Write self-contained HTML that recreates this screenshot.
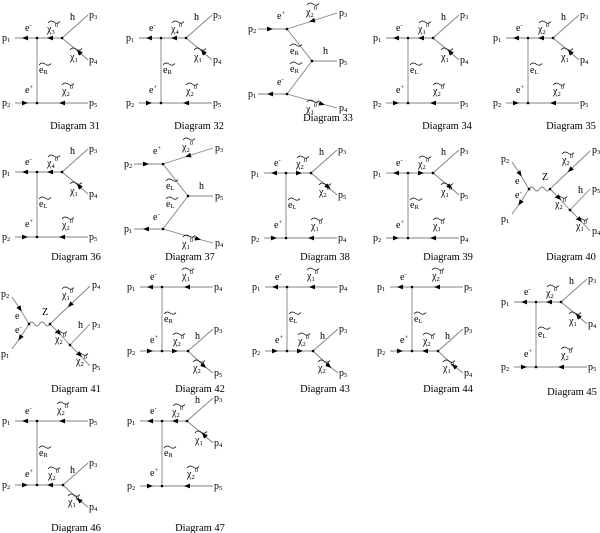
<!DOCTYPE html>
<html><head><meta charset="utf-8"><style>
html,body{margin:0;padding:0;background:#fff;width:600px;height:533px;overflow:hidden}
text{font-family:"Liberation Serif",serif;font-size:10px;fill:#000}
.s{font-size:6.5px}
.c{font-size:10.5px;text-anchor:middle}
.ln path{fill:none;stroke:#808080;stroke-width:0.9}
.ln path.m{marker-mid:url(#a)}
circle{fill:#000}
</style></head><body>
<svg width="600" height="533" viewBox="0 0 600 533" xmlns="http://www.w3.org/2000/svg">
<defs>
<marker id="a" viewBox="0 0 6 6" refX="3" refY="3" markerWidth="6" markerHeight="6" markerUnits="userSpaceOnUse" orient="auto"><path d="M0,0.6 L6,3 L0,5.4z" fill="#000"/></marker>
<path id="tl" d="M2,3 C4,0.5 6,0.5 8,2 S12,4 14,1.5" fill="none" stroke="#000" stroke-width="0.7"/>
</defs>

<!-- Diagram 31 -->
<g transform="translate(0,0)">
<g class="ln"><path class="m" d="M37,38 L25,38 L15,38"/><path class="m" d="M62,38 L50,38 L37,38"/><path d="M37,38 V103"/><path class="m" d="M15,103 L25,103 L37,103"/><path class="m" d="M88,103 L62,103 L37,103"/><path d="M62,38 L88,15"/><path class="m" d="M88,60 L79,52 L62,38"/></g>
<circle cx="37" cy="38" r="1.3"/><circle cx="62" cy="38" r="1.3"/><circle cx="37" cy="103" r="1.3"/>
<text x="2" y="41">p<tspan class="s" dy="1">1</tspan></text><text x="25" y="31">e<tspan class="s" dy="-4">-</tspan></text>
<use href="#tl" x="46" y="20"/><text x="47" y="32">χ<tspan class="s" dy="2">3</tspan><tspan class="s" dy="-7">0</tspan></text>
<text x="70" y="20">h</text><use href="#tl" x="68" y="47"/><text x="70" y="60">χ<tspan class="s" dy="2">1</tspan><tspan class="s" dy="-7">0</tspan></text>
<use href="#tl" x="37" y="62"/><text x="39" y="73">e<tspan class="s" dy="1">R</tspan></text>
<text x="25" y="93">e<tspan class="s" dy="-4">+</tspan></text><use href="#tl" x="60" y="82"/><text x="62" y="94">χ<tspan class="s" dy="2">2</tspan><tspan class="s" dy="-7">0</tspan></text>
<text x="2" y="106">p<tspan class="s" dy="1">2</tspan></text><text x="89" y="18">p<tspan class="s" dy="1">3</tspan></text><text x="89" y="63">p<tspan class="s" dy="1">4</tspan></text><text x="89" y="106">p<tspan class="s" dy="1">5</tspan></text>
</g>

<!-- Diagram 32 -->
<g transform="translate(124,0)">
<g class="ln"><path class="m" d="M37,38 L25,38 L15,38"/><path class="m" d="M62,38 L50,38 L37,38"/><path d="M37,38 V103"/><path class="m" d="M15,103 L25,103 L37,103"/><path class="m" d="M88,103 L62,103 L37,103"/><path d="M62,38 L88,15"/><path class="m" d="M88,60 L79,52 L62,38"/></g>
<circle cx="37" cy="38" r="1.3"/><circle cx="62" cy="38" r="1.3"/><circle cx="37" cy="103" r="1.3"/>
<text x="2" y="41">p<tspan class="s" dy="1">1</tspan></text><text x="25" y="31">e<tspan class="s" dy="-4">-</tspan></text>
<use href="#tl" x="46" y="20"/><text x="47" y="32">χ<tspan class="s" dy="2">4</tspan><tspan class="s" dy="-7">0</tspan></text>
<text x="70" y="20">h</text><use href="#tl" x="68" y="47"/><text x="70" y="60">χ<tspan class="s" dy="2">1</tspan><tspan class="s" dy="-7">0</tspan></text>
<use href="#tl" x="37" y="62"/><text x="39" y="73">e<tspan class="s" dy="1">R</tspan></text>
<text x="25" y="93">e<tspan class="s" dy="-4">+</tspan></text><use href="#tl" x="60" y="82"/><text x="62" y="94">χ<tspan class="s" dy="2">2</tspan><tspan class="s" dy="-7">0</tspan></text>
<text x="2" y="106">p<tspan class="s" dy="1">2</tspan></text><text x="89" y="18">p<tspan class="s" dy="1">3</tspan></text><text x="89" y="63">p<tspan class="s" dy="1">4</tspan></text><text x="89" y="106">p<tspan class="s" dy="1">5</tspan></text>
</g>

<!-- Diagram 33 -->
<g transform="translate(0,0)">
<g class="ln"><path class="m" d="M258,29 L270,29 L287,29"/><path class="m" d="M337,13 L312,21 L287,29"/><path d="M287,29 L312,61 L337,61"/><path d="M312,61 L287,94"/><path class="m" d="M287,94 L270,94 L258,94"/><path class="m" d="M287,94 L322,104 L337,108"/></g>
<circle cx="287" cy="29" r="1.3"/><circle cx="312" cy="61" r="1.3"/><circle cx="287" cy="94" r="1.3"/>
<text x="248" y="32">p<tspan class="s" dy="1">2</tspan></text><text x="248" y="97">p<tspan class="s" dy="1">1</tspan></text>
<text x="277" y="19">e<tspan class="s" dy="-4">+</tspan></text><use href="#tl" x="305" y="2"/><text x="306" y="15">χ<tspan class="s" dy="2">2</tspan><tspan class="s" dy="-7">0</tspan></text>
<use href="#tl" x="288" y="43"/><text x="290" y="54">e<tspan class="s" dy="1">R</tspan></text><text x="323" y="54">h</text>
<use href="#tl" x="288" y="61"/><text x="290" y="72">e<tspan class="s" dy="1">R</tspan></text>
<text x="277" y="85">e<tspan class="s" dy="-4">-</tspan></text><use href="#tl" x="305" y="99"/><text x="306" y="112">χ<tspan class="s" dy="2">1</tspan><tspan class="s" dy="-7">0</tspan></text>
<text x="339" y="16">p<tspan class="s" dy="1">3</tspan></text><text x="339" y="64">p<tspan class="s" dy="1">5</tspan></text><text x="339" y="111">p<tspan class="s" dy="1">4</tspan></text>
</g>

<!-- Diagram 34 -->
<g transform="translate(371,0)">
<g class="ln"><path class="m" d="M37,38 L25,38 L15,38"/><path class="m" d="M62,38 L50,38 L37,38"/><path d="M37,38 V103"/><path class="m" d="M15,103 L25,103 L37,103"/><path class="m" d="M88,103 L62,103 L37,103"/><path d="M62,38 L88,15"/><path class="m" d="M88,60 L79,52 L62,38"/></g>
<circle cx="37" cy="38" r="1.3"/><circle cx="62" cy="38" r="1.3"/><circle cx="37" cy="103" r="1.3"/>
<text x="2" y="41">p<tspan class="s" dy="1">1</tspan></text><text x="25" y="31">e<tspan class="s" dy="-4">-</tspan></text>
<use href="#tl" x="46" y="20"/><text x="47" y="32">χ<tspan class="s" dy="2">1</tspan><tspan class="s" dy="-7">0</tspan></text>
<text x="70" y="20">h</text><use href="#tl" x="68" y="47"/><text x="70" y="60">χ<tspan class="s" dy="2">1</tspan><tspan class="s" dy="-7">0</tspan></text>
<use href="#tl" x="37" y="62"/><text x="39" y="73">e<tspan class="s" dy="1">L</tspan></text>
<text x="25" y="93">e<tspan class="s" dy="-4">+</tspan></text><use href="#tl" x="60" y="82"/><text x="62" y="94">χ<tspan class="s" dy="2">2</tspan><tspan class="s" dy="-7">0</tspan></text>
<text x="2" y="106">p<tspan class="s" dy="1">2</tspan></text><text x="89" y="18">p<tspan class="s" dy="1">3</tspan></text><text x="89" y="63">p<tspan class="s" dy="1">4</tspan></text><text x="89" y="106">p<tspan class="s" dy="1">5</tspan></text>
</g>

<!-- Diagram 35 -->
<g transform="translate(491,0)">
<g class="ln"><path class="m" d="M37,38 L25,38 L15,38"/><path class="m" d="M62,38 L50,38 L37,38"/><path d="M37,38 V103"/><path class="m" d="M15,103 L25,103 L37,103"/><path class="m" d="M88,103 L62,103 L37,103"/><path d="M62,38 L88,15"/><path class="m" d="M88,60 L79,52 L62,38"/></g>
<circle cx="37" cy="38" r="1.3"/><circle cx="62" cy="38" r="1.3"/><circle cx="37" cy="103" r="1.3"/>
<text x="2" y="41">p<tspan class="s" dy="1">1</tspan></text><text x="25" y="31">e<tspan class="s" dy="-4">-</tspan></text>
<use href="#tl" x="46" y="20"/><text x="47" y="32">χ<tspan class="s" dy="2">2</tspan><tspan class="s" dy="-7">0</tspan></text>
<text x="70" y="20">h</text><use href="#tl" x="68" y="47"/><text x="70" y="60">χ<tspan class="s" dy="2">1</tspan><tspan class="s" dy="-7">0</tspan></text>
<use href="#tl" x="37" y="62"/><text x="39" y="73">e<tspan class="s" dy="1">L</tspan></text>
<text x="25" y="93">e<tspan class="s" dy="-4">+</tspan></text><use href="#tl" x="60" y="82"/><text x="62" y="94">χ<tspan class="s" dy="2">2</tspan><tspan class="s" dy="-7">0</tspan></text>
<text x="2" y="106">p<tspan class="s" dy="1">2</tspan></text><text x="89" y="18">p<tspan class="s" dy="1">3</tspan></text><text x="89" y="63">p<tspan class="s" dy="1">4</tspan></text><text x="89" y="106">p<tspan class="s" dy="1">5</tspan></text>
</g>

<text class="c" x="75" y="129">Diagram 31</text><text class="c" x="199" y="129">Diagram 32</text><text class="c" x="328" y="121">Diagram 33</text><text class="c" x="447" y="129">Diagram 34</text><text class="c" x="571" y="129">Diagram 35</text>

<!-- Diagram 36 -->
<g transform="translate(0,134)">
<g class="ln"><path class="m" d="M37,38 L25,38 L15,38"/><path class="m" d="M62,38 L50,38 L37,38"/><path d="M37,38 V103"/><path class="m" d="M15,103 L25,103 L37,103"/><path class="m" d="M88,103 L62,103 L37,103"/><path d="M62,38 L88,15"/><path class="m" d="M88,60 L79,52 L62,38"/></g>
<circle cx="37" cy="38" r="1.3"/><circle cx="62" cy="38" r="1.3"/><circle cx="37" cy="103" r="1.3"/>
<text x="2" y="41">p<tspan class="s" dy="1">1</tspan></text><text x="25" y="31">e<tspan class="s" dy="-4">-</tspan></text>
<use href="#tl" x="46" y="20"/><text x="47" y="32">χ<tspan class="s" dy="2">4</tspan><tspan class="s" dy="-7">0</tspan></text>
<text x="70" y="20">h</text><use href="#tl" x="68" y="47"/><text x="70" y="60">χ<tspan class="s" dy="2">1</tspan><tspan class="s" dy="-7">0</tspan></text>
<use href="#tl" x="37" y="62"/><text x="39" y="73">e<tspan class="s" dy="1">L</tspan></text>
<text x="25" y="93">e<tspan class="s" dy="-4">+</tspan></text><use href="#tl" x="60" y="82"/><text x="62" y="94">χ<tspan class="s" dy="2">2</tspan><tspan class="s" dy="-7">0</tspan></text>
<text x="2" y="106">p<tspan class="s" dy="1">2</tspan></text><text x="89" y="18">p<tspan class="s" dy="1">3</tspan></text><text x="89" y="63">p<tspan class="s" dy="1">4</tspan></text><text x="89" y="106">p<tspan class="s" dy="1">5</tspan></text>
</g>

<!-- Diagram 37 -->
<g transform="translate(-124,135)">
<g class="ln"><path class="m" d="M258,29 L270,29 L287,29"/><path class="m" d="M337,13 L312,21 L287,29"/><path d="M287,29 L312,61 L337,61"/><path d="M312,61 L287,94"/><path class="m" d="M287,94 L270,94 L258,94"/><path class="m" d="M287,94 L322,104 L337,108"/></g>
<circle cx="287" cy="29" r="1.3"/><circle cx="312" cy="61" r="1.3"/><circle cx="287" cy="94" r="1.3"/>
<text x="248" y="32">p<tspan class="s" dy="1">2</tspan></text><text x="248" y="97">p<tspan class="s" dy="1">1</tspan></text>
<text x="277" y="19">e<tspan class="s" dy="-4">+</tspan></text><use href="#tl" x="305" y="2"/><text x="306" y="15">χ<tspan class="s" dy="2">2</tspan><tspan class="s" dy="-7">0</tspan></text>
<use href="#tl" x="288" y="43"/><text x="290" y="54">e<tspan class="s" dy="1">L</tspan></text><text x="323" y="54">h</text>
<use href="#tl" x="288" y="61"/><text x="290" y="72">e<tspan class="s" dy="1">L</tspan></text>
<text x="277" y="85">e<tspan class="s" dy="-4">-</tspan></text><use href="#tl" x="305" y="99"/><text x="306" y="112">χ<tspan class="s" dy="2">1</tspan><tspan class="s" dy="-7">0</tspan></text>
<text x="339" y="16">p<tspan class="s" dy="1">3</tspan></text><text x="339" y="64">p<tspan class="s" dy="1">5</tspan></text><text x="339" y="111">p<tspan class="s" dy="1">4</tspan></text>
</g>

<!-- Diagram 38 -->
<g transform="translate(249,135)">
<g class="ln"><path class="m" d="M37,38 L25,38 L15,38"/><path class="m" d="M37,38 L50,38 L62,38"/><path d="M37,38 V103"/><path class="m" d="M15,103 L25,103 L37,103"/><path class="m" d="M88,103 L62,103 L37,103"/><path d="M62,38 L88,15"/><path class="m" d="M62,38 L79,52 L88,60"/></g>
<circle cx="37" cy="38" r="1.3"/><circle cx="62" cy="38" r="1.3"/><circle cx="37" cy="103" r="1.3"/>
<text x="2" y="41">p<tspan class="s" dy="1">1</tspan></text><text x="25" y="31">e<tspan class="s" dy="-4">-</tspan></text>
<use href="#tl" x="46" y="20"/><text x="47" y="32">χ<tspan class="s" dy="2">2</tspan><tspan class="s" dy="-7">0</tspan></text>
<text x="70" y="20">h</text><use href="#tl" x="68" y="47"/><text x="70" y="60">χ<tspan class="s" dy="2">2</tspan><tspan class="s" dy="-7">0</tspan></text>
<use href="#tl" x="37" y="62"/><text x="39" y="73">e<tspan class="s" dy="1">L</tspan></text>
<text x="25" y="93">e<tspan class="s" dy="-4">+</tspan></text><use href="#tl" x="60" y="82"/><text x="62" y="94">χ<tspan class="s" dy="2">1</tspan><tspan class="s" dy="-7">0</tspan></text>
<text x="2" y="106">p<tspan class="s" dy="1">2</tspan></text><text x="89" y="18">p<tspan class="s" dy="1">3</tspan></text><text x="89" y="63">p<tspan class="s" dy="1">5</tspan></text><text x="89" y="106">p<tspan class="s" dy="1">4</tspan></text>
</g>

<!-- Diagram 39 -->
<g transform="translate(371,135)">
<g class="ln"><path class="m" d="M37,38 L25,38 L15,38"/><path class="m" d="M37,38 L50,38 L62,38"/><path d="M37,38 V103"/><path class="m" d="M15,103 L25,103 L37,103"/><path class="m" d="M88,103 L62,103 L37,103"/><path d="M62,38 L88,15"/><path class="m" d="M62,38 L79,52 L88,60"/></g>
<circle cx="37" cy="38" r="1.3"/><circle cx="62" cy="38" r="1.3"/><circle cx="37" cy="103" r="1.3"/>
<text x="2" y="41">p<tspan class="s" dy="1">1</tspan></text><text x="25" y="31">e<tspan class="s" dy="-4">-</tspan></text>
<use href="#tl" x="46" y="20"/><text x="47" y="32">χ<tspan class="s" dy="2">2</tspan><tspan class="s" dy="-7">0</tspan></text>
<text x="70" y="20">h</text><use href="#tl" x="68" y="47"/><text x="70" y="60">χ<tspan class="s" dy="2">1</tspan><tspan class="s" dy="-7">0</tspan></text>
<use href="#tl" x="37" y="62"/><text x="39" y="73">e<tspan class="s" dy="1">R</tspan></text>
<text x="25" y="93">e<tspan class="s" dy="-4">+</tspan></text><use href="#tl" x="60" y="82"/><text x="62" y="94">χ<tspan class="s" dy="2">1</tspan><tspan class="s" dy="-7">0</tspan></text>
<text x="2" y="106">p<tspan class="s" dy="1">2</tspan></text><text x="89" y="18">p<tspan class="s" dy="1">3</tspan></text><text x="89" y="63">p<tspan class="s" dy="1">5</tspan></text><text x="89" y="106">p<tspan class="s" dy="1">4</tspan></text>
</g>

<!-- Diagram 40 (X type) -->
<g transform="translate(500,-135)">
<g class="ln"><path class="m" d="M12,297 L20,309 L29,324"/><path class="m" d="M29,324 L20,338 L12,349"/><path d="M29,324 q2.6,-4 5.25,0 t5.25,0 t5.25,0 t5.25,0"/><path class="m" d="M90,286 L70,305 L50,324"/><path class="m" d="M50,324 L59,333 L70,345"/><path d="M70,345 L90,324"/><path class="m" d="M70,345 L80,355 L90,366"/></g>
<circle cx="29" cy="324" r="1.3"/><circle cx="50" cy="324" r="1.3"/><circle cx="70" cy="345" r="1.3"/>
<text x="1" y="297">p<tspan class="s" dy="1">2</tspan></text><text x="1" y="357">p<tspan class="s" dy="1">1</tspan></text>
<text x="15" y="319">e</text><text x="15" y="333">e<tspan class="s" dy="-4">-</tspan></text><text x="42" y="315">Z</text>
<use href="#tl" x="60" y="286"/><text x="62" y="298">χ<tspan class="s" dy="2">2</tspan><tspan class="s" dy="-7">0</tspan></text>
<text x="78" y="328">h</text><use href="#tl" x="53" y="330"/><text x="55" y="342">χ<tspan class="s" dy="2">2</tspan><tspan class="s" dy="-7">0</tspan></text>
<use href="#tl" x="74" y="352"/><text x="76" y="364">χ<tspan class="s" dy="2">1</tspan><tspan class="s" dy="-7">0</tspan></text>
<text x="92" y="288">p<tspan class="s" dy="1">3</tspan></text><text x="92" y="327">p<tspan class="s" dy="1">5</tspan></text><text x="92" y="369">p<tspan class="s" dy="1">4</tspan></text>
</g>

<text class="c" x="76" y="260">Diagram 36</text><text class="c" x="190" y="260">Diagram 37</text><text class="c" x="325" y="260">Diagram 38</text><text class="c" x="448" y="260">Diagram 39</text><text class="c" x="571" y="260">Diagram 40</text>

<!-- Diagram 41 (X type) -->
<g>
<g class="ln"><path class="m" d="M12,297 L20,309 L29,324"/><path class="m" d="M29,324 L20,338 L12,349"/><path d="M29,324 q2.6,-4 5.25,0 t5.25,0 t5.25,0 t5.25,0"/><path class="m" d="M90,286 L70,305 L50,324"/><path class="m" d="M50,324 L59,333 L70,345"/><path d="M70,345 L90,324"/><path class="m" d="M70,345 L80,355 L90,366"/></g>
<circle cx="29" cy="324" r="1.3"/><circle cx="50" cy="324" r="1.3"/><circle cx="70" cy="345" r="1.3"/>
<text x="1" y="297">p<tspan class="s" dy="1">2</tspan></text><text x="1" y="357">p<tspan class="s" dy="1">1</tspan></text>
<text x="15" y="319">e</text><text x="15" y="333">e<tspan class="s" dy="-4">-</tspan></text><text x="42" y="315">Z</text>
<use href="#tl" x="60" y="286"/><text x="62" y="298">χ<tspan class="s" dy="2">1</tspan><tspan class="s" dy="-7">0</tspan></text>
<text x="78" y="328">h</text><use href="#tl" x="53" y="330"/><text x="55" y="342">χ<tspan class="s" dy="2">2</tspan><tspan class="s" dy="-7">0</tspan></text>
<use href="#tl" x="74" y="352"/><text x="76" y="364">χ<tspan class="s" dy="2">2</tspan><tspan class="s" dy="-7">0</tspan></text>
<text x="92" y="288">p<tspan class="s" dy="1">4</tspan></text><text x="92" y="327">p<tspan class="s" dy="1">3</tspan></text><text x="92" y="369">p<tspan class="s" dy="1">5</tspan></text>
</g>

<!-- Diagram 42 (B) -->
<g transform="translate(125,249)">
<g class="ln"><path class="m" d="M37,38 L25,38 L15,38"/><path class="m" d="M88,38 L62,38 L37,38"/><path d="M37,38 V102"/><path class="m" d="M15,102 L25,102 L37,102"/><path class="m" d="M37,102 L50,102 L63,102"/><path d="M63,102 L88,80"/><path class="m" d="M63,102 L79,117 L88,124"/></g>
<circle cx="37" cy="38" r="1.3"/><circle cx="37" cy="102" r="1.3"/><circle cx="63" cy="102" r="1.3"/>
<text x="2" y="41">p<tspan class="s" dy="1">1</tspan></text><text x="25" y="31">e<tspan class="s" dy="-4">-</tspan></text>
<use href="#tl" x="55" y="18"/><text x="57" y="30">χ<tspan class="s" dy="2">1</tspan><tspan class="s" dy="-7">0</tspan></text><text x="89" y="41">p<tspan class="s" dy="1">4</tspan></text>
<use href="#tl" x="37" y="62"/><text x="39" y="73">e<tspan class="s" dy="1">R</tspan></text>
<text x="25" y="94">e<tspan class="s" dy="-4">+</tspan></text><use href="#tl" x="46" y="83"/><text x="48" y="95">χ<tspan class="s" dy="2">2</tspan><tspan class="s" dy="-7">0</tspan></text>
<text x="70" y="90">h</text><use href="#tl" x="66" y="110"/><text x="68" y="122">χ<tspan class="s" dy="2">2</tspan><tspan class="s" dy="-7">0</tspan></text>
<text x="2" y="105">p<tspan class="s" dy="1">2</tspan></text><text x="89" y="83">p<tspan class="s" dy="1">3</tspan></text><text x="89" y="127">p<tspan class="s" dy="1">5</tspan></text>
</g>

<!-- Diagram 43 (B) -->
<g transform="translate(250,249)">
<g class="ln"><path class="m" d="M37,38 L25,38 L15,38"/><path class="m" d="M88,38 L62,38 L37,38"/><path d="M37,38 V102"/><path class="m" d="M15,102 L25,102 L37,102"/><path class="m" d="M37,102 L50,102 L63,102"/><path d="M63,102 L88,80"/><path class="m" d="M63,102 L79,117 L88,124"/></g>
<circle cx="37" cy="38" r="1.3"/><circle cx="37" cy="102" r="1.3"/><circle cx="63" cy="102" r="1.3"/>
<text x="2" y="41">p<tspan class="s" dy="1">1</tspan></text><text x="25" y="31">e<tspan class="s" dy="-4">-</tspan></text>
<use href="#tl" x="55" y="18"/><text x="57" y="30">χ<tspan class="s" dy="2">1</tspan><tspan class="s" dy="-7">0</tspan></text><text x="89" y="41">p<tspan class="s" dy="1">4</tspan></text>
<use href="#tl" x="37" y="62"/><text x="39" y="73">e<tspan class="s" dy="1">L</tspan></text>
<text x="25" y="94">e<tspan class="s" dy="-4">+</tspan></text><use href="#tl" x="46" y="83"/><text x="48" y="95">χ<tspan class="s" dy="2">2</tspan><tspan class="s" dy="-7">0</tspan></text>
<text x="70" y="90">h</text><use href="#tl" x="66" y="110"/><text x="68" y="122">χ<tspan class="s" dy="2">2</tspan><tspan class="s" dy="-7">0</tspan></text>
<text x="2" y="105">p<tspan class="s" dy="1">2</tspan></text><text x="89" y="83">p<tspan class="s" dy="1">3</tspan></text><text x="89" y="127">p<tspan class="s" dy="1">5</tspan></text>
</g>

<!-- Diagram 44 (B) -->
<g transform="translate(375,249)">
<g class="ln"><path class="m" d="M37,38 L25,38 L15,38"/><path class="m" d="M88,38 L62,38 L37,38"/><path d="M37,38 V102"/><path class="m" d="M15,102 L25,102 L37,102"/><path class="m" d="M63,102 L50,102 L37,102"/><path d="M63,102 L88,80"/><path class="m" d="M88,124 L79,117 L63,102"/></g>
<circle cx="37" cy="38" r="1.3"/><circle cx="37" cy="102" r="1.3"/><circle cx="63" cy="102" r="1.3"/>
<text x="2" y="41">p<tspan class="s" dy="1">1</tspan></text><text x="25" y="31">e<tspan class="s" dy="-4">-</tspan></text>
<use href="#tl" x="55" y="18"/><text x="57" y="30">χ<tspan class="s" dy="2">2</tspan><tspan class="s" dy="-7">0</tspan></text><text x="89" y="41">p<tspan class="s" dy="1">5</tspan></text>
<use href="#tl" x="37" y="62"/><text x="39" y="73">e<tspan class="s" dy="1">L</tspan></text>
<text x="25" y="94">e<tspan class="s" dy="-4">+</tspan></text><use href="#tl" x="46" y="83"/><text x="48" y="95">χ<tspan class="s" dy="2">2</tspan><tspan class="s" dy="-7">0</tspan></text>
<text x="70" y="90">h</text><use href="#tl" x="66" y="110"/><text x="68" y="122">χ<tspan class="s" dy="2">1</tspan><tspan class="s" dy="-7">0</tspan></text>
<text x="2" y="105">p<tspan class="s" dy="1">2</tspan></text><text x="89" y="83">p<tspan class="s" dy="1">3</tspan></text><text x="89" y="127">p<tspan class="s" dy="1">4</tspan></text>
</g>

<!-- Diagram 45 (A) -->
<g transform="translate(499,264)">
<g class="ln"><path class="m" d="M37,38 L25,38 L15,38"/><path class="m" d="M62,38 L50,38 L37,38"/><path d="M37,38 V103"/><path class="m" d="M15,103 L25,103 L37,103"/><path class="m" d="M88,103 L62,103 L37,103"/><path d="M62,38 L88,15"/><path class="m" d="M88,60 L79,52 L62,38"/></g>
<circle cx="37" cy="38" r="1.3"/><circle cx="62" cy="38" r="1.3"/><circle cx="37" cy="103" r="1.3"/>
<text x="2" y="41">p<tspan class="s" dy="1">1</tspan></text><text x="25" y="31">e<tspan class="s" dy="-4">-</tspan></text>
<use href="#tl" x="46" y="20"/><text x="47" y="32">χ<tspan class="s" dy="2">2</tspan><tspan class="s" dy="-7">0</tspan></text>
<text x="70" y="20">h</text><use href="#tl" x="68" y="47"/><text x="70" y="60">χ<tspan class="s" dy="2">1</tspan><tspan class="s" dy="-7">0</tspan></text>
<use href="#tl" x="37" y="62"/><text x="39" y="73">e<tspan class="s" dy="1">L</tspan></text>
<text x="25" y="93">e<tspan class="s" dy="-4">+</tspan></text><use href="#tl" x="60" y="82"/><text x="62" y="94">χ<tspan class="s" dy="2">2</tspan><tspan class="s" dy="-7">0</tspan></text>
<text x="2" y="106">p<tspan class="s" dy="1">2</tspan></text><text x="89" y="18">p<tspan class="s" dy="1">3</tspan></text><text x="89" y="63">p<tspan class="s" dy="1">4</tspan></text><text x="89" y="106">p<tspan class="s" dy="1">5</tspan></text>
</g>

<text class="c" x="76" y="392">Diagram 41</text><text class="c" x="200" y="392">Diagram 42</text><text class="c" x="325" y="392">Diagram 43</text><text class="c" x="448" y="392">Diagram 44</text><text class="c" x="572" y="395">Diagram 45</text>

<!-- Diagram 46 (B) -->
<g transform="translate(0,383)">
<g class="ln"><path class="m" d="M37,38 L25,38 L15,38"/><path class="m" d="M88,38 L62,38 L37,38"/><path d="M37,38 V102"/><path class="m" d="M15,102 L25,102 L37,102"/><path class="m" d="M63,102 L50,102 L37,102"/><path d="M63,102 L88,80"/><path class="m" d="M88,124 L79,117 L63,102"/></g>
<circle cx="37" cy="38" r="1.3"/><circle cx="37" cy="102" r="1.3"/><circle cx="63" cy="102" r="1.3"/>
<text x="2" y="41">p<tspan class="s" dy="1">1</tspan></text><text x="25" y="31">e<tspan class="s" dy="-4">-</tspan></text>
<use href="#tl" x="55" y="18"/><text x="57" y="30">χ<tspan class="s" dy="2">2</tspan><tspan class="s" dy="-7">0</tspan></text><text x="89" y="41">p<tspan class="s" dy="1">5</tspan></text>
<use href="#tl" x="37" y="62"/><text x="39" y="73">e<tspan class="s" dy="1">R</tspan></text>
<text x="25" y="94">e<tspan class="s" dy="-4">+</tspan></text><use href="#tl" x="46" y="83"/><text x="48" y="95">χ<tspan class="s" dy="2">2</tspan><tspan class="s" dy="-7">0</tspan></text>
<text x="70" y="90">h</text><use href="#tl" x="66" y="110"/><text x="68" y="122">χ<tspan class="s" dy="2">1</tspan><tspan class="s" dy="-7">0</tspan></text>
<text x="2" y="105">p<tspan class="s" dy="1">2</tspan></text><text x="89" y="83">p<tspan class="s" dy="1">3</tspan></text><text x="89" y="127">p<tspan class="s" dy="1">4</tspan></text>
</g>

<!-- Diagram 47 (A) -->
<g transform="translate(125,383)">
<g class="ln"><path class="m" d="M37,38 L25,38 L15,38"/><path class="m" d="M62,38 L50,38 L37,38"/><path d="M37,38 V103"/><path class="m" d="M15,103 L25,103 L37,103"/><path class="m" d="M88,103 L62,103 L37,103"/><path d="M62,38 L88,15"/><path class="m" d="M88,60 L79,52 L62,38"/></g>
<circle cx="37" cy="38" r="1.3"/><circle cx="62" cy="38" r="1.3"/><circle cx="37" cy="103" r="1.3"/>
<text x="2" y="41">p<tspan class="s" dy="1">1</tspan></text><text x="25" y="31">e<tspan class="s" dy="-4">-</tspan></text>
<use href="#tl" x="46" y="20"/><text x="47" y="32">χ<tspan class="s" dy="2">2</tspan><tspan class="s" dy="-7">0</tspan></text>
<text x="70" y="20">h</text><use href="#tl" x="68" y="47"/><text x="70" y="60">χ<tspan class="s" dy="2">1</tspan><tspan class="s" dy="-7">0</tspan></text>
<use href="#tl" x="37" y="62"/><text x="39" y="73">e<tspan class="s" dy="1">R</tspan></text>
<text x="25" y="93">e<tspan class="s" dy="-4">+</tspan></text><use href="#tl" x="60" y="82"/><text x="62" y="94">χ<tspan class="s" dy="2">2</tspan><tspan class="s" dy="-7">0</tspan></text>
<text x="2" y="106">p<tspan class="s" dy="1">2</tspan></text><text x="89" y="18">p<tspan class="s" dy="1">3</tspan></text><text x="89" y="63">p<tspan class="s" dy="1">4</tspan></text><text x="89" y="106">p<tspan class="s" dy="1">5</tspan></text>
</g>

<text class="c" x="76" y="531">Diagram 46</text><text class="c" x="200" y="531">Diagram 47</text>
</svg>
</body></html>
